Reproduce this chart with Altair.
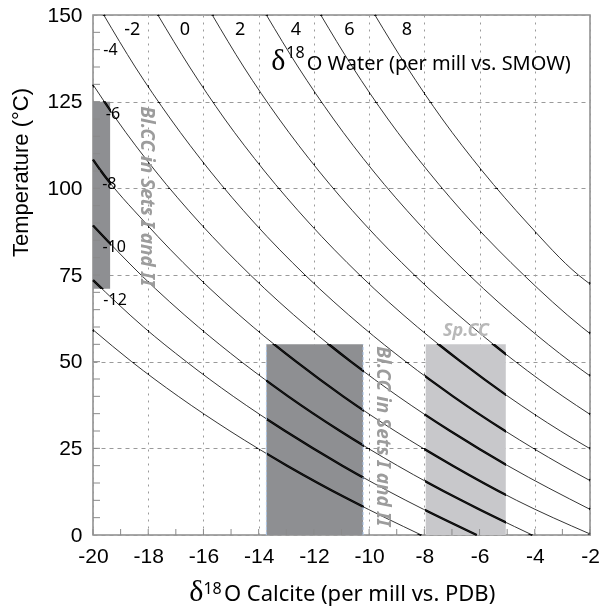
import altair as alt
import pandas as pd

# δ18O of the water (per mill vs. SMOW) labelling each equilibrium curve
water = [-12, -10, -8, -6, -4, -2, 0, 2, 4, 6, 8]

# Points along each curve: calcite δ18O (per mill vs. PDB) and temperature (°C)
calcite_m12 = [-8.11, -10.67, -12.97, -15.04, -16.91, -18.60, -20.0]
temp_m12 = [0, 10, 20, 30, 40, 50, 59.2]
calcite_m10 = [-6.10, -8.67, -10.97, -13.04, -14.92, -16.62, -18.17, -20.0]
temp_m10 = [0, 10, 20, 30, 40, 50, 60, 73.5]
calcite_m8 = [-4.09, -6.66, -8.97, -11.05, -12.93, -14.63, -16.18, -18.26, -20.0]
temp_m8 = [0, 10, 20, 30, 40, 50, 60, 75, 89.3]
calcite_m6 = [-2.0, -4.66, -6.97, -9.06, -10.94, -12.64, -14.20, -16.28, -18.10, -19.71, -20.0]
temp_m6 = [0.3, 10, 20, 30, 40, 50, 60, 75, 90, 105, 108.3]
calcite_m4 = [-2.0, -4.98, -7.06, -8.95, -10.66, -12.22, -14.30, -16.13, -17.74, -19.16, -20.0]
temp_m4 = [7.4, 20, 30, 40, 50, 60, 75, 90, 105, 120, 129.9]
calcite_m2 = [-2.0, -2.98, -5.07, -6.96, -8.67, -10.23, -12.32, -14.15, -15.76, -17.19, -18.47, -19.61]
temp_m2 = [15.7, 20, 30, 40, 50, 60, 75, 90, 105, 120, 135, 150]
calcite_p0 = [-2.0, -3.07, -4.97, -6.68, -8.25, -10.34, -12.17, -13.79, -15.23, -16.50, -17.65]
temp_p0 = [24.9, 30, 40, 50, 60, 75, 90, 105, 120, 135, 150]
calcite_p2 = [-2.0, -2.98, -4.70, -6.26, -8.36, -10.20, -11.82, -13.26, -14.54, -15.68]
temp_p2 = [34.8, 40, 50, 60, 75, 90, 105, 120, 135, 150]
calcite_p4 = [-2.0, -2.71, -4.28, -6.38, -8.22, -9.85, -11.29, -12.57, -13.72]
temp_p4 = [45.9, 50, 60, 75, 90, 105, 120, 135, 150]
calcite_p6 = [-2.0, -2.30, -4.40, -6.25, -7.87, -9.32, -10.60, -11.75]
temp_p6 = [58.1, 60, 75, 90, 105, 120, 135, 150]
calcite_p8 = [-2.0, -2.42, -4.27, -5.90, -7.35, -8.63, -9.79]
temp_p8 = [72.4, 75, 90, 105, 120, 135, 150]

# Shaded sample ranges
box_kind = ["Bl.CC", "Bl.CC", "Sp.CC"]
box_calcite_lo = [-20.0, -13.72, -7.95]
box_calcite_hi = [-19.38, -10.22, -5.05]
box_temp_lo = [71, 0, 0]
box_temp_hi = [125, 55, 55]

# Curve labels (water δ18O) along the top and the left edge
top_label_text = ["-2", "0", "2", "4", "6", "8"]
top_label_calcite = [-18.58, -16.67, -14.67, -12.65, -10.71, -8.63]
top_label_temp = [145.6] * 6
left_label_text = ["-4", "-6", "-8", "-10", "-12"]
left_label_calcite = [-19.37, -19.28, -19.41, -19.23, -19.2]
left_label_temp = [139.8, 121.3, 101.2, 83.2, 67.8]

# Axis ticks
x_ticks = list(range(-20, -1))
y_label_ticks = [0, 25, 50, 75, 100, 125, 150]
y_minor_ticks = list(range(5, 150, 5))

W, H = 497, 520
SANS = "Noto Sans"
ARIAL = "Liberation Sans"
SERIF = "Liberation Serif"

series = [
    (calcite_m12, temp_m12), (calcite_m10, temp_m10), (calcite_m8, temp_m8),
    (calcite_m6, temp_m6), (calcite_m4, temp_m4), (calcite_m2, temp_m2),
    (calcite_p0, temp_p0), (calcite_p2, temp_p2), (calcite_p4, temp_p4),
    (calcite_p6, temp_p6), (calcite_p8, temp_p8),
]
rows = []
for w, (xs, ts) in zip(water, series):
    for xv, tv in zip(xs, ts):
        rows.append({"water": w, "calcite": xv, "temp": tv})
curves = pd.DataFrame(rows)

boxes = pd.DataFrame({
    "kind": box_kind, "x0": box_calcite_lo, "x1": box_calcite_hi,
    "t0": box_temp_lo, "t1": box_temp_hi,
})

xscale = alt.Scale(domain=[-20, -2], nice=False, zero=False)
yscale = alt.Scale(domain=[0, 150], nice=False, zero=False)

xaxis = alt.Axis(
    values=x_ticks, labelExpr="datum.value % 2 == 0 ? '' + datum.value : ''",
    grid=True, gridColor="#9a9a9a", gridDash=[2, 5], gridWidth=1,
    ticks=False, domain=False, labelFont=ARIAL, labelFontSize=21,
    labelColor="black", labelPadding=10, labelFlush=False, labelOverlap=False,
    title=None,
)
yaxis = alt.Axis(
    values=y_label_ticks, labelExpr="'' + datum.value",
    grid=True, gridColor="#9a9a9a", gridDash=[4, 4], gridWidth=1,
    ticks=False, domain=False, labelFont=ARIAL, labelFontSize=21,
    labelColor="black", labelPadding=11, labelFlush=False,
    title="Temperature (°C)", titleFont=ARIAL, titleFontSize=22,
    titleFontWeight="normal", titleColor="black", titleX=-66, titleY=157,
    titleAngle=270, titleAlign="center", titleBaseline="alphabetic",
)

box_layer = alt.Chart(boxes).mark_rect().encode(
    x=alt.X("x0:Q", scale=xscale, axis=xaxis),
    x2="x1:Q",
    y=alt.Y("t0:Q", scale=yscale, axis=yaxis),
    y2="t1:Q",
    color=alt.Color("kind:N", scale=alt.Scale(domain=["Bl.CC", "Sp.CC"],
                                             range=["#8e8f92", "#c8c8cb"]), legend=None),
)

# Bold segments: colour-burn makes the stroke show only over the shaded boxes
thick = alt.Chart(curves).mark_line(
    color="black", strokeWidth=2.3, interpolate="monotone", blend="color-burn"
).encode(
    x=alt.X("calcite:Q", scale=xscale),
    y=alt.Y("temp:Q", scale=yscale),
    detail="water:N",
    order=alt.Order("calcite:Q"),
)

thin = alt.Chart(curves).mark_line(
    color="#1e1e1e", strokeWidth=0.9, interpolate="monotone"
).encode(
    x=alt.X("calcite:Q", scale=xscale),
    y=alt.Y("temp:Q", scale=yscale),
    detail="water:N",
    order=alt.Order("calcite:Q"),
)

edge_df = pd.DataFrame({
    "x": [box_calcite_lo[1], box_calcite_hi[1]],
    "t0": [box_temp_lo[1]] * 2, "t1": [box_temp_hi[1]] * 2,
})
edges = alt.Chart(edge_df).mark_rule(color="#a8c4e8", strokeWidth=1, strokeDash=[3, 2]).encode(
    x=alt.X("x:Q", scale=xscale), y=alt.Y("t0:Q", scale=yscale), y2="t1:Q"
)

xtick_layer = alt.Chart(pd.DataFrame({"v": x_ticks})).mark_rule(color="#8a8a8a").encode(
    x=alt.X("v:Q", scale=xscale), y=alt.value(H), y2=alt.value(H - 6)
)
ytick_layer = alt.Chart(pd.DataFrame({"v": y_minor_ticks})).mark_rule(color="#8a8a8a").encode(
    y=alt.Y("v:Q", scale=yscale), x=alt.value(0), x2=alt.value(7)
)

top_labels = alt.Chart(pd.DataFrame({
    "t": top_label_text, "x": top_label_calcite, "y": top_label_temp
})).mark_text(font=SANS, fontSize=18, color="black", align="center", baseline="middle").encode(
    x=alt.X("x:Q", scale=xscale), y=alt.Y("y:Q", scale=yscale), text="t:N"
)
left_labels = alt.Chart(pd.DataFrame({
    "t": left_label_text, "x": left_label_calcite, "y": left_label_temp
})).mark_text(font=SANS, fontSize=16, color="black", align="center", baseline="middle").encode(
    x=alt.X("x:Q", scale=xscale), y=alt.Y("y:Q", scale=yscale), text="t:N"
)


def word(text, x, t, size, font=SANS, align="left", color="black", **kw):
    return alt.Chart(pd.DataFrame({"t": [text], "x": [x], "y": [t]})).mark_text(
        font=font, fontSize=size, color=color, align=align, baseline="alphabetic", **kw
    ).encode(x=alt.X("x:Q", scale=xscale), y=alt.Y("y:Q", scale=yscale), text="t:N")


water_title = [
    word("δ", -13.54, 134.1, 30, font=SERIF),
    word("18", -13.00, 137.7, 16),
    word("O Water (per mill vs. SMOW)", -12.26, 134.1, 20),
]
calcite_title = [
    word("δ", -16.51, -19.1, 30, font=SERIF),
    word("18", -16.00, -17.1, 16),
    word("O Calcite (per mill vs. PDB)", -15.26, -19.1, 22),
]

group_text = [
    word("Bl.CC in Sets I and II", -18.25, 97.7, 19, align="center", color="#9c9c9c",
         angle=90, fontStyle="italic", fontWeight="bold"),
    word("Bl.CC in Sets I and II", -9.71, 28.5, 19, align="center", color="#9c9c9c",
         angle=90, fontStyle="italic", fontWeight="bold"),
    word("Sp.CC", -6.49, 57.5, 18, align="center", color="#b8b8b8",
         fontStyle="italic", fontWeight="bold"),
]

chart = alt.layer(
    box_layer, thick, thin, edges, xtick_layer, ytick_layer,
    top_labels, left_labels, *water_title, *calcite_title, *group_text,
).properties(
    width=W, height=H,
    autosize=alt.AutoSizeParams(type="none"),
    padding={"left": 93, "top": 15, "right": 11, "bottom": 73},
    background="white",
).configure_view(
    stroke="#8a8a8a", strokeWidth=1.5, fill="white"
)

chart.save("out.html", embed_options={"renderer": "svg", "actions": False})
